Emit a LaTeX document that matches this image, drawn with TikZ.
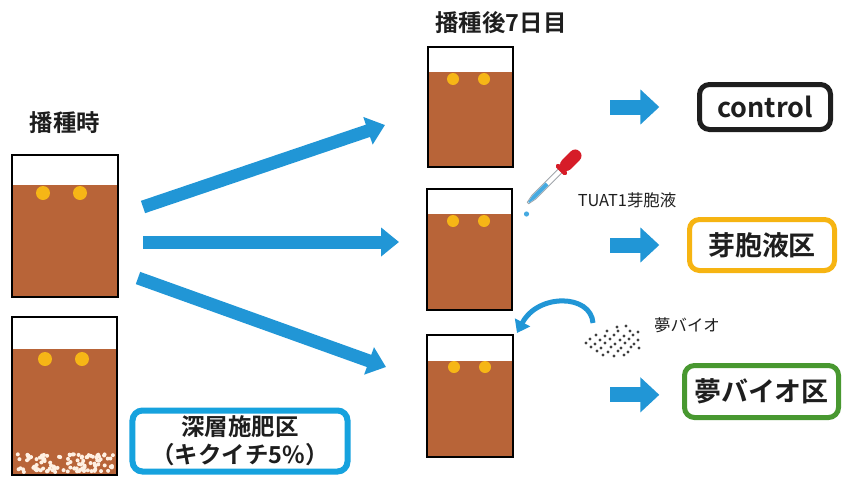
\documentclass[tikz,border=0pt]{standalone}
\usepackage{fontspec}
\setmainfont{Noto Sans CJK JP}[BoldFont={Noto Sans CJK JP Bold}]
\usetikzlibrary{arrows.meta, positioning}
\definecolor{soilBrown}{RGB}{184,100,56}
\definecolor{seedYellow}{RGB}{246,182,22}
\definecolor{grainCream}{RGB}{255,240,226}
\definecolor{flowBlue}{RGB}{33,150,214}
\definecolor{deepBlue}{RGB}{22,162,222}
\definecolor{sporeOrange}{RGB}{246,180,18}
\definecolor{bioGreen}{RGB}{72,152,48}
\definecolor{labelInk}{RGB}{30,30,30}
\definecolor{bulbRed}{RGB}{214,28,40}
\definecolor{dropBlue}{RGB}{70,170,225}
\definecolor{tubeGray}{RGB}{160,165,170}

\begin{document}
\begin{tikzpicture}[x=0.03cm, y=-0.03cm,
      pot/.style={draw=black, line width=0.06cm, fill=soilBrown, inner sep=0pt},
      headspace/.style={path picture={\fill[white] (path picture bounding box.north west)
        rectangle ([yshift=-#1]path picture bounding box.north east);}},
      seed/.style={fill=seedYellow},
      title/.style={font=\bfseries\fontsize{20}{24}\selectfont, text=labelInk},
      note/.style={font=\fontsize{14}{17}\selectfont, text=labelInk},
      plotbox/.style={rounded corners=0.3cm, line width=0.15cm, fill=white, inner sep=0pt, align=center,
        text=labelInk, font=\bfseries\fontsize{23}{27}\selectfont},
      bigarrow/.style={draw=flowBlue, line width=0.39cm, -{Triangle[length=0.54cm, width=0.84cm]}},
      stubarrow/.style={draw=flowBlue, line width=0.45cm, -{Triangle[length=0.57cm, width=1.02cm]}},
      curlarrow/.style={draw=flowBlue, line width=0.15cm, -{Triangle[length=0.36cm, width=0.5cm]}}
    ]
    \useasboundingbox (0,0) rectangle (843,477);

    \node[title] (sowtitle) at (65,123) {播種時};
    \node[title] (weektitle) at (501,23) {播種後7日目};

    \node[pot, headspace=0.9cm, minimum width=3.15cm, minimum height=4.26cm] (sow) at (65,226) {};
    \node[pot, headspace=0.96cm, minimum width=3.15cm, minimum height=4.74cm] (deep) at (64.5,396) {};
    \node[pot, headspace=0.75cm, minimum width=2.55cm, minimum height=3.6cm] (ctl) at (470.5,107) {};
    \node[pot, headspace=0.75cm, minimum width=2.55cm, minimum height=3.63cm] (spore) at (469.5,249.5) {};
    \node[pot, headspace=0.78cm, minimum width=2.58cm, minimum height=3.66cm] (bio) at (470,396) {};

    \fill[seed] (43,193) circle[radius=7] (80,193) circle[radius=7];
    \fill[seed] (45,359) circle[radius=7] (82,359) circle[radius=7];
    \fill[seed] (453,79) circle[radius=6] (484,79) circle[radius=6];
    \fill[seed] (453,221) circle[radius=6] (484,221) circle[radius=6];
    \fill[seed] (454,367) circle[radius=6] (485,367) circle[radius=6];

    \pgfmathsetseed{17}
    \foreach \i in {1,...,110} {
      \pgfmathsetmacro\gx{17+96*rnd}
      \pgfmathsetmacro\gy{454+18*rnd}
      \fill[grainCream] (\gx,\gy) circle[radius=2];
    }

    \node[plotbox, draw=deepBlue, line width=0.18cm, minimum width=6.45cm, minimum height=1.83cm,
      font=\bfseries\fontsize{20}{24}\selectfont] (deeplabel) at (240,441) {深層施肥区\\（キクイチ5\%）};
    \node[plotbox, draw=labelInk, minimum width=3.93cm, minimum height=1.35cm] (ctllabel) at (765,107) {control};
    \node[plotbox, draw=sporeOrange, minimum width=4.35cm, minimum height=1.53cm] (sporelabel) at (762,245) {芽胞液区};
    \node[plotbox, draw=bioGreen, minimum width=4.62cm, minimum height=1.56cm] (biolabel) at (761.5,391.5) {夢バイオ区};

    \coordinate (fanup) at (143,207);
    \coordinate (fanmid) at (143,242);
    \coordinate (fandown) at (138,278);
    \coordinate (ctlin) at (385,125);
    \coordinate (sporein) at (399,242);
    \coordinate (bioin) at (386,367);
    \draw[bigarrow] (fanup) -- (ctlin);
    \draw[bigarrow] (fanmid) -- (sporein);
    \draw[bigarrow] (fandown) -- (bioin);

    \draw[stubarrow] ([xshift=-2.6cm]ctllabel.west) -- ([xshift=-1.13cm]ctllabel.west);
    \draw[stubarrow] ([xshift=-2.3cm]sporelabel.west) -- ([xshift=-0.83cm]sporelabel.west);
    \draw[stubarrow] ([xshift=-2.15cm, yshift=-0.1cm]biolabel.west) -- ([xshift=-0.68cm, yshift=-0.1cm]biolabel.west);

    \begin{scope}[shift={(528,203)}, rotate=45]
      \draw[tubeGray, fill=white, line width=0.025cm] (0,-1) -- (8,-2.6) -- (46,-2.6) -- (46,2.6) -- (8,2.6) -- (0,1) -- cycle;
      \fill[dropBlue] (1,-0.7) -- (8,-2) -- (27,-2) -- (27,2) -- (8,2) -- (1,0.7) -- cycle;
      \fill[bulbRed, rounded corners=0.05cm] (45,-7) rectangle (49.5,7);
      \fill[bulbRed, rounded corners=0.18cm] (48,-6.2) rectangle (73,6.2);
    \end{scope}
    \fill[dropBlue] (526.5,214) circle[radius=2.6];
    \node[note] (sporenote) at (627,200) {TUAT1芽胞液};

    \foreach \dx/\dy in {617/327, 626/326,
        607/331, 618/331, 630/331, 638/332,
        596/335, 605/336, 614/335, 624/336, 633/335,
        590/339, 600/340, 610/339, 620/340, 629/339, 638/340,
        586/343, 595/344, 605/343, 615/344, 625/343, 634/344,
        591/347, 601/348, 611/347, 621/348, 631/347, 639/348,
        597/351, 608/352, 618/351, 628/352,
        603/355, 614/356, 624/355} {
      \fill[black!75] (\dx,\dy) circle[radius=1.7];
    }
    \coordinate (dust) at (593,323);
    \draw[curlarrow] (dust) .. controls (591,294) and (538,293) .. (517,333);
    \node[note] (bionote) at (687,325) {夢バイオ};
  \end{tikzpicture}
\end{document}
